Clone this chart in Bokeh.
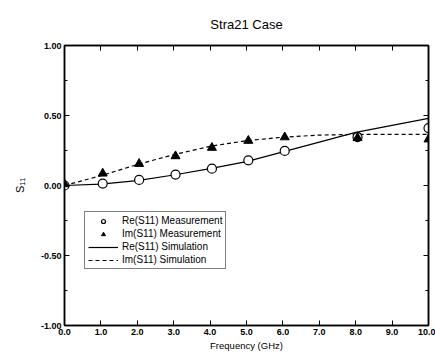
from bokeh.plotting import figure
from bokeh.models import (LinearAxis, FixedTicker, PrintfTickFormatter, Range1d,
                          Legend, LegendItem, CustomJSTickFormatter)
from bokeh.embed import file_html
from bokeh.resources import INLINE

# data
meas_freq = [0.0, 1.05, 2.05, 3.05, 4.05, 5.05, 6.05, 8.05, 10.0]
re_meas = [0.0, 0.014, 0.04, 0.078, 0.12, 0.18, 0.247, 0.345, 0.41]
im_meas = [0.01, 0.086, 0.155, 0.21, 0.27, 0.32, 0.345, 0.34, 0.33]
sim_freq = [0.0, 1.0, 2.0, 3.0, 4.0, 5.0, 6.0, 7.0, 8.0, 9.0, 10.0]
re_sim = [0.0, 0.01, 0.035, 0.075, 0.12, 0.17, 0.24, 0.31, 0.38, 0.43, 0.48]
im_sim = [0.0, 0.07, 0.15, 0.22, 0.28, 0.32, 0.345, 0.36, 0.365, 0.365, 0.365]
x_ticks = [0, 1, 2, 3, 4, 5, 6, 7, 8, 9, 10]
y_ticks = [-1.0, -0.5, 0.0, 0.5, 1.0]
y_minor = [-0.75, -0.25, 0.25, 0.75]

FONT = "Liberation Sans"

p = figure(width=435, height=357, output_backend="svg", toolbar_location=None,
           x_range=Range1d(0, 10), y_range=Range1d(-1, 1),
           min_border_left=64, min_border_right=7, min_border_top=0,
           min_border_bottom=32, x_axis_location=None, y_axis_location=None)
p.grid.visible = False
p.outline_line_color = "black"
p.outline_line_width = 1.5
p.background_fill_color = "white"
p.border_fill_color = "white"

p.title.text = "Stra21 Case"
p.title.align = "center"
p.title.text_font = FONT
p.title.text_font_size = "13px"
p.title.text_font_style = "normal"
p.title.text_color = "black"
p.title.offset = 0
p.title.standoff = 28

blank = CustomJSTickFormatter(code="return ''")

def style(ax, labels=True):
    ax.axis_line_color = "black"
    ax.axis_line_width = 1.5
    ax.major_tick_line_color = "black"
    ax.minor_tick_line_color = "black"
    ax.major_tick_in = 5
    ax.major_tick_out = 0
    ax.minor_tick_in = 3
    ax.minor_tick_out = 0
    ax.major_label_text_font = FONT
    ax.major_label_text_font_style = "bold"
    ax.major_label_text_color = "black"
    ax.major_label_text_font_size = "9px"
    ax.major_label_standoff = 3
    ax.axis_label_text_font = FONT
    ax.axis_label_text_font_style = "normal"
    ax.axis_label_text_color = "black"
    ax.axis_label_text_font_size = "9.5px"
    if not labels:
        ax.formatter = blank

xb = LinearAxis(ticker=FixedTicker(ticks=x_ticks), formatter=PrintfTickFormatter(format="%.1f"),
                axis_label="Frequency (GHz)")
style(xb)
xb.axis_label_standoff = 2
p.add_layout(xb, "below")
xt = LinearAxis(ticker=FixedTicker(ticks=x_ticks))
style(xt, False)
xt.major_label_text_font_size = "1px"
xt.major_label_standoff = 0
p.add_layout(xt, "above")
yl = LinearAxis(ticker=FixedTicker(ticks=y_ticks, minor_ticks=y_minor),
                formatter=PrintfTickFormatter(format="%.2f"), axis_label="S\u2081\u2081")
style(yl)
yl.axis_label_text_font_size = "11px"
yl.axis_label_standoff = 12
p.add_layout(yl, "left")
yr = LinearAxis(ticker=FixedTicker(ticks=y_ticks, minor_ticks=y_minor))
style(yr, False)
p.add_layout(yr, "right")

r_resim = p.line(sim_freq, re_sim, line_color="black", line_width=1.2)
r_imsim = p.line(sim_freq, im_sim, line_color="black", line_width=1.2, line_dash="4 3")
r_remeas = p.scatter(meas_freq, re_meas, marker="circle", size=9, fill_color="white",
                     line_color="black", line_width=1.2)
r_immeas = p.scatter(meas_freq, im_meas, marker="triangle", size=9, fill_color="black",
                     line_color="black")

legend = Legend(items=[
    LegendItem(label="Re(S11) Measurement", renderers=[r_remeas]),
    LegendItem(label="Im(S11) Measurement", renderers=[r_immeas]),
    LegendItem(label="Re(S11) Simulation", renderers=[r_resim]),
    LegendItem(label="Im(S11) Simulation", renderers=[r_imsim]),
], location=(20, 56))
legend.label_text_font = FONT
legend.label_text_font_size = "10px"
legend.label_text_color = "black"
legend.label_height = 10
legend.glyph_height = 10
legend.glyph_width = 30
legend.spacing = 2
legend.padding = 3
legend.margin = 0
legend.label_standoff = 4
legend.border_line_color = "black"
legend.border_line_width = 1
legend.background_fill_alpha = 1
p.add_layout(legend, "center")

open("out.html", "w").write(file_html(p, INLINE))
